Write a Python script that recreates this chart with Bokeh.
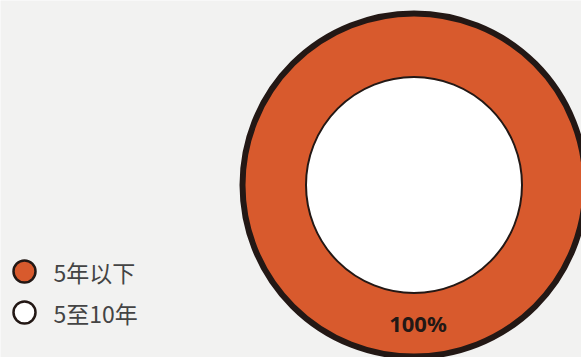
import math
from bokeh.plotting import figure
from bokeh.models import Range1d, ColumnDataSource
from bokeh.core.properties import value
from bokeh.embed import file_html
from bokeh.resources import INLINE

# ---- data ----
categories = ["5年以下", "5至10年"]
values = [100, 0]
colors = ["#D85A2D", "#FFFFFF"]
labels = ["100%", ""]

W, H = 581, 357
BG = "#F2F2F1"
DARK = "#231815"

p = figure(width=W, height=H, output_backend="svg", toolbar_location=None,
           x_range=Range1d(0, W), y_range=Range1d(0, H),
           min_border=0, min_border_left=0, min_border_right=0,
           min_border_top=0, min_border_bottom=0)
p.axis.visible = False
p.grid.visible = False
p.outline_line_color = None
p.background_fill_color = BG
p.border_fill_color = BG

cx, cy = 413.5, H - 184.5
r_out, r_in = 171.5, 108.0

# wedges from cumulative values, starting at top, clockwise
total = sum(values)
rows = dict(cat=[], start=[], end=[], color=[], mid=[], label=[])
acc = 0.0
for c, v, col, lab in zip(categories, values, colors, labels):
    a0 = math.pi / 2 - 2 * math.pi * acc / total
    acc += v
    a1 = math.pi / 2 - 2 * math.pi * acc / total
    if v <= 0:
        continue
    if v >= total:
        a1 += 1e-5  # avoid start == end (mod 2*pi) for a full ring
    rows["cat"].append(c)
    rows["start"].append(a1)
    rows["end"].append(a0)
    rows["color"].append(col)
    rows["mid"].append((a0 + a1) / 2)
    rows["label"].append(lab)

src = ColumnDataSource(dict(cat=rows["cat"], start=rows["start"], end=rows["end"],
                            color=rows["color"]))
p.annular_wedge(x=cx, y=cy, inner_radius=r_in, outer_radius=r_out,
                start_angle="start", end_angle="end", fill_color="color",
                line_color=None, source=src)

# outlines
p.circle(x=cx, y=cy, radius=r_out, fill_color=None, line_color=DARK, line_width=6)
p.circle(x=cx, y=cy, radius=r_in, fill_color="#FFFFFF", line_color=DARK, line_width=2)

# labels at ring middle
r_mid = (r_out + r_in) / 2
lx = [cx + 4 + r_mid * math.cos(m) for m in rows["mid"]]
ly = [cy + 2 + r_mid * math.sin(m) for m in rows["mid"]]
p.text(x=lx, y=ly, text=rows["label"], text_align="center", text_baseline="middle",
       text_font=value("Noto Sans"), text_font_style="bold",
       text_font_size="22px", text_color=DARK)

# legend
leg_x = 24
leg_y0 = H - 271
leg_dy = 41
ly_leg = [leg_y0 - i * leg_dy for i in range(len(categories))]
p.scatter(x=[leg_x] * len(categories), y=ly_leg, size=22, marker="circle",
          fill_color=colors, line_color=DARK, line_width=2.5)
p.text(x=[leg_x + 29] * len(categories), y=ly_leg, text=categories,
       text_align="left", text_baseline="middle",
       text_font=value("Noto Sans CJK SC"), text_font_size="23px",
       text_font_style="normal", text_color="#444444")

open("out.html", "w").write(file_html(p, INLINE))
